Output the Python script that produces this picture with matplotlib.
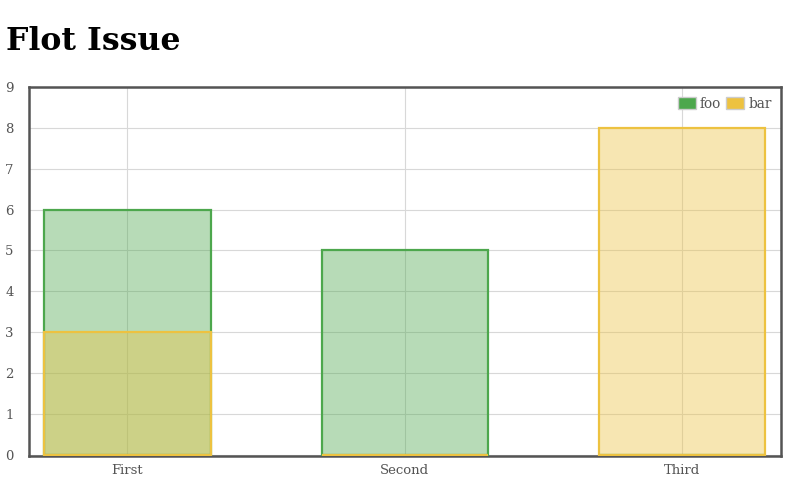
import matplotlib
matplotlib.use("Agg")
import matplotlib.pyplot as plt
import numpy as np
from matplotlib.patches import Patch

categories = ["First", "Second", "Third"]
foo = [6, 5, 0]
bar = [3, 0, 8]
yticks = list(range(0, 10))

green = "#4da74d"
yellow = "#edc240"
tick_color = "#545454"

plt.rcParams['font.family'] = ['DejaVu Serif']

fig = plt.figure(figsize=(7.96, 4.82), dpi=100)
ax = fig.add_axes([29/796, 26/482, 752/796, 369/482])

x = np.arange(len(categories))
w = 0.6
ax.bar(x, foo, width=w, color=green, alpha=0.4, linewidth=0, zorder=2)
ax.bar(x, foo, width=w, facecolor="none", edgecolor=green, linewidth=1.6, zorder=3)
ax.bar(x, bar, width=w, color=yellow, alpha=0.4, linewidth=0, zorder=2)
ax.bar(x, bar, width=w, facecolor="none", edgecolor=yellow, linewidth=1.6, zorder=3)

ax.set_xlim(-0.355, 2.357)
ax.set_ylim(-0.03, 9)
ax.set_yticks(yticks)
ax.set_xticks(x)
ax.set_xticklabels(categories)
ax.grid(True, color="#d8d8d8", linewidth=0.8, zorder=1)
ax.set_axisbelow(True)
ax.tick_params(length=0, labelsize=9.5, colors=tick_color)
ax.tick_params(axis='y', pad=11)
ax.tick_params(axis='x', pad=6)
for s in ax.spines.values():
    s.set_color("#545454")
    s.set_linewidth(1.8)

handles = [Patch(facecolor=green, edgecolor="#cccccc", linewidth=1.0, label="foo"),
           Patch(facecolor=yellow, edgecolor="#cccccc", linewidth=1.0, label="bar")]
leg = ax.legend(handles=handles, ncol=2, loc="upper right", frameon=False,
                fontsize=9.8, handlelength=1.3, handleheight=1.0, handletextpad=0.3,
                columnspacing=0.4, borderaxespad=0.3, labelcolor=tick_color)

fig.text(6/796, 1 - 50/482, "Flot Issue", fontsize=22.8, fontweight="bold",
         color="black", ha="left", va="baseline")

fig.savefig("out.png", dpi=100)
